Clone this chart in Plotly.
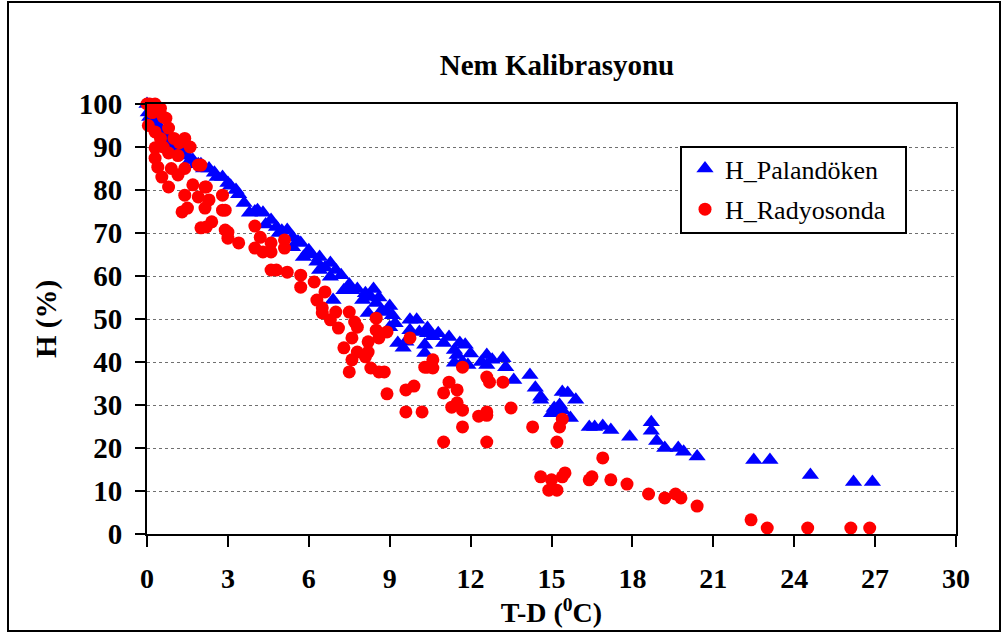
import plotly.graph_objects as go

# H_Palandöken (blue triangles): T-D (°C), H (%)
pal_x = [0.0, 0.05, 0.1, 0.2, 0.3, 0.4, 0.5, 0.6, 0.7, 0.8, 0.9, 1.0, 1.1, 1.2, 1.3, 1.4, 1.5, 1.6,
         1.7, 1.8, 1.9, 2.0, 2.1, 2.3, 2.5, 2.6, 2.8, 3.0, 3.1, 3.3, 3.4, 3.6, 3.8, 4.0, 4.1, 4.3,
         4.4, 4.6, 4.8, 4.9, 5.0, 5.2, 5.4, 5.4, 5.6, 5.7, 5.8, 6.0, 6.1, 6.3, 6.4, 6.4, 6.6, 6.8,
         6.8, 7.0, 7.2, 7.3, 6.9, 7.5, 7.6, 7.8, 8.0, 8.1, 8.3, 8.4, 8.5, 8.2, 8.6, 8.7, 8.9, 9.0,
         9.1, 9.0, 9.2, 9.3, 9.5, 9.6, 9.75, 9.75, 10.0, 10.1, 10.3, 10.4, 10.4, 10.3, 10.6, 10.8,
         11.0, 11.2, 11.4, 11.5, 11.4, 11.6, 11.7, 11.8, 11.9, 12.0, 12.4, 12.6, 12.6, 12.8, 13.2,
         13.3, 13.6, 14.2, 14.4, 14.6, 14.6, 15.0, 15.1, 15.3, 15.4, 15.4, 15.6, 15.9, 15.7, 16.4,
         16.6, 16.9, 17.2, 17.9, 18.7, 18.7, 18.9, 19.2, 19.7, 19.9, 20.4, 22.5, 23.1, 24.6, 26.2,
         26.9]
pal_y = [100, 98, 97, 99, 96, 95, 94, 93, 92, 92, 91, 90, 90, 89, 89, 88, 88, 87,
         87, 86, 86, 86, 85, 85, 84, 83, 83, 81.6, 81, 80, 79, 77, 74.7, 75, 75.3, 74.7,
         72, 73, 71.4, 70, 70.5, 70.7, 69, 66.7, 68, 67.7, 64.4, 66, 65, 63.3, 64.4, 61.4, 62, 63,
         59.8, 61.4, 60.2, 56.7, 54.4, 58, 56.7, 57, 54.4, 56, 55.1, 57, 53.7, 51.4, 55, 52, 51.6, 53,
         50.9, 48.1, 49, 44.4, 43.3, 44.7, 47.4, 49.8, 49.8, 47, 44, 47.9, 46.7, 42.1, 46, 46.7,
         44.4, 45.8, 42.8, 41.6, 39.8, 44.4, 40, 44, 39.3, 42, 40, 41.6, 39.3, 40.5, 40.9,
         38.8, 35.8, 37, 34, 31.9, 31.2, 28.1, 29.3, 30, 28.8, 33, 32.8, 31.2, 27, 24.9,
         24.9, 25.1, 24.2, 22.6, 26, 24, 21.6, 20, 20, 19.1, 18, 17.2, 17.2, 13.7, 12.1,
         12.1]

# H_Radyosonda (red circles)
rad_x = [0.0, 0.1, 0.3, 0.4, 0.5, 0.2, 0.6, 0.7, 0.05, 0.8, 0.3, 0.5, 1.0, 1.4, 1.2, 1.6, 0.3, 0.6,
         0.3, 0.8, 1.15, 0.4, 0.9, 1.4, 1.9, 0.55, 1.15, 0.8, 1.7, 2.15, 1.4, 1.9, 2.8, 1.3, 1.5,
         2.15, 2.9, 2.2, 2.4, 2.9, 2.0, 3.0, 3.0, 3.4, 2.0, 2.2, 2.3, 2.8,
         4.0, 4.2, 4.0, 4.3, 4.6, 4.6, 5.1, 5.1, 4.6, 4.8, 5.2, 5.7, 6.2, 5.7, 6.6, 6.3, 6.5, 6.5,
         6.8, 7.0, 7.5, 7.7, 7.8, 7.1, 7.6, 8.5, 8.2, 7.3, 7.8, 8.2, 8.1, 7.6, 8.5, 8.9, 8.6, 8.3,
         8.6, 8.8, 7.5, 9.75, 8.9, 9.6, 9.9, 10.4, 10.6, 10.3, 10.6, 11.2, 11.7, 11.0, 11.5, 11.3,
         11.7, 11.5, 9.6, 10.2, 11.7, 11.0, 12.6, 12.7, 13.2, 12.3, 12.6, 12.6, 13.5, 12.6, 14.3,
         15.2, 15.3, 15.4, 14.6, 15.0, 14.9, 15.2, 15.5, 15.4, 16.4, 16.5, 16.9, 17.2, 17.8, 18.6,
         19.2, 19.6, 19.8, 20.4, 22.4, 23.0, 24.5, 26.1, 26.8]
rad_y = [100, 100, 100, 99, 99, 98, 97, 96.7, 95, 94.4, 93.5, 92, 92, 92, 91, 90, 89.8, 90,
         87.4, 88.6, 88, 85.3, 85, 85, 85.8, 83, 83.5, 80.7, 81.2, 80.7, 78.8, 78.4, 78.8, 74.9, 75.8,
         75.8, 75.3, 71.4, 72.6, 70.7, 71.2, 70.2, 68.8, 67.7, 85.8, 80.7, 77.7, 75.3,
         71.6, 69, 66.5, 65.6, 65.6, 67.7, 68.4, 66.5, 61.4, 61.4, 60.9, 60.2, 58.6, 57.4, 56.3, 54.4, 52.6, 51.4,
         49.8, 51.6, 51.6, 49.3, 48.1, 47.9, 45.6, 50.2, 44.7, 43.3, 42.3, 42.3, 41.2, 40.5, 47.4, 47, 45.6, 38.6,
         37.7, 37.7, 37.7, 45.6, 32.6, 33.5, 34.4, 38.8, 40.5, 38.8, 38.6, 35.3, 38.8, 32.8, 33.5, 29.5,
         28.8, 30.5, 28.4, 28.4, 24.9, 21.4, 36.5, 35.3, 35.3, 27.4, 28.4, 27.6, 29.3, 21.4, 24.9,
         21.4, 24.9, 26.7, 13.3, 12.6, 10.2, 10.2, 14.2, 13.3, 12.6, 13.3, 17.7, 12.6, 11.6, 9.3,
         8.4, 9.3, 8.4, 6.5, 3.3, 1.4, 1.4, 1.4, 1.4]

x_ticks = [0, 3, 6, 9, 12, 15, 18, 21, 24, 27, 30]
y_ticks = [0, 10, 20, 30, 40, 50, 60, 70, 80, 90, 100]

FONT = "Times New Roman, Liberation Serif, serif"

fig = go.Figure()
fig.add_trace(go.Scatter(
    x=pal_x, y=pal_y, mode="markers", name="H_Palandöken", legendgroup="a",
    marker=dict(symbol="triangle-up", size=15, color="#0000FF", line=dict(width=0)),
    cliponaxis=False,
))
fig.add_trace(go.Scatter(
    x=rad_x, y=rad_y, mode="markers", name="H_Radyosonda", legendgroup="b",
    marker=dict(symbol="circle", size=13, color="#FF0000", line=dict(width=0)),
    cliponaxis=False,
))

fig.update_layout(
    width=1006, height=635,
    margin=dict(l=147, r=50, t=104, b=101, autoexpand=False),
    paper_bgcolor="white", plot_bgcolor="white",
    font=dict(family=FONT, color="black"),
    title=dict(text="<b>Nem Kalibrasyonu</b>", x=557 / 1006, xanchor="center",
               y=1 - 65 / 635, yanchor="middle", font=dict(family=FONT, size=29)),
    showlegend=True,
    legend=dict(x=(685 - 147) / 809, y=(534 - 145) / 430, xanchor="left", yanchor="top",
                bgcolor="rgba(0,0,0,0)", borderwidth=0,
                font=dict(family=FONT, size=26), tracegroupgap=4,
                itemsizing="trace"),
    xaxis=dict(range=[0, 30], tickvals=x_ticks, ticktext=[str(v) for v in x_ticks],
               showgrid=False, zeroline=False, automargin=False,
               showline=True, linewidth=2, linecolor="black", mirror=True,
               ticks="outside", ticklen=11, tickwidth=2, tickcolor="black",
               ticklabelstandoff=7,
               tickfont=dict(family=FONT, size=28, weight="bold"),
               title=dict(text="<b>T-D (<sup>0</sup>C)</b>", font=dict(family=FONT, size=28),
                          standoff=0)),
    yaxis=dict(range=[0, 100], tickvals=y_ticks, ticktext=[str(v) for v in y_ticks],
               showgrid=True, gridcolor="#707070", griddash="dot", gridwidth=1,
               zeroline=False, automargin=False,
               showline=True, linewidth=2, linecolor="black", mirror=True,
               ticks="outside", ticklen=10, tickwidth=2, tickcolor="black",
               ticklabelstandoff=7,
               tickfont=dict(family=FONT, size=29, weight="bold"),
               title=dict(text="<b>H (%)</b>", font=dict(family=FONT, size=29), standoff=14)),
)

# outer chart border
fig.add_shape(type="rect", xref="paper", yref="paper",
              x0=(8 - 147) / 809, x1=(1000 - 147) / 809,
              y0=(534 - 631) / 430, y1=(534 - 2) / 430,
              line=dict(color="black", width=2), fillcolor="rgba(0,0,0,0)", layer="below")
# legend frame
fig.add_shape(type="rect", xref="paper", yref="paper",
              x0=(681 - 147) / 809, x1=(906 - 147) / 809,
              y0=(534 - 233) / 430, y1=(534 - 147) / 430,
              line=dict(color="black", width=2), fillcolor="white", layer="above")

fig.write_html("out.html", config={"displayModeBar": False},
               post_script="document.body.style.margin='0';document.body.style.overflow='hidden';")
